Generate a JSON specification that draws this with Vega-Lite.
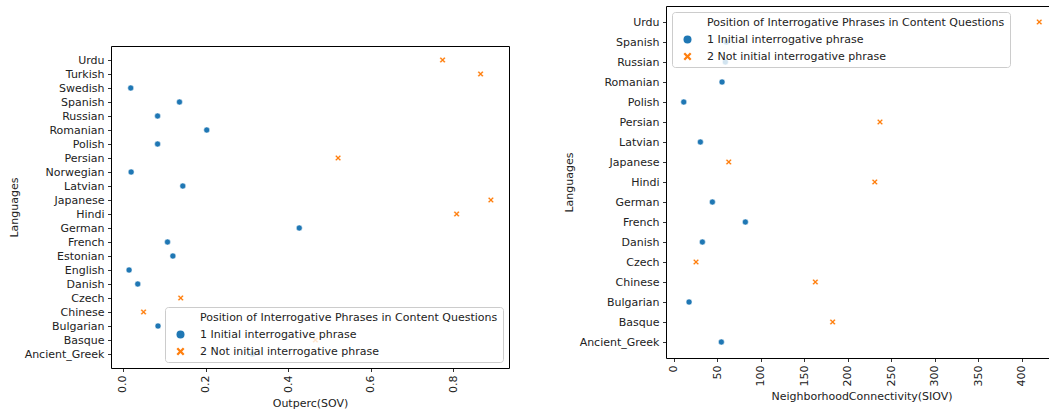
{
  "$schema": "https://vega.github.io/schema/vega-lite/v6.json",
  "padding": {"left": 8, "top": 5, "right": 0, "bottom": 0},
  "background": "white",
  "datasets": {
    "sov": [
      {"Language": "Urdu", "Value": 0.774, "Position": "2 Not initial interrogative phrase"},
      {"Language": "Turkish", "Value": 0.866, "Position": "2 Not initial interrogative phrase"},
      {"Language": "Swedish", "Value": 0.019, "Position": "1 Initial interrogative phrase"},
      {"Language": "Spanish", "Value": 0.137, "Position": "1 Initial interrogative phrase"},
      {"Language": "Russian", "Value": 0.084, "Position": "1 Initial interrogative phrase"},
      {"Language": "Romanian", "Value": 0.203, "Position": "1 Initial interrogative phrase"},
      {"Language": "Polish", "Value": 0.084, "Position": "1 Initial interrogative phrase"},
      {"Language": "Persian", "Value": 0.521, "Position": "2 Not initial interrogative phrase"},
      {"Language": "Norwegian", "Value": 0.020, "Position": "1 Initial interrogative phrase"},
      {"Language": "Latvian", "Value": 0.145, "Position": "1 Initial interrogative phrase"},
      {"Language": "Japanese", "Value": 0.891, "Position": "2 Not initial interrogative phrase"},
      {"Language": "Hindi", "Value": 0.808, "Position": "2 Not initial interrogative phrase"},
      {"Language": "German", "Value": 0.427, "Position": "1 Initial interrogative phrase"},
      {"Language": "French", "Value": 0.108, "Position": "1 Initial interrogative phrase"},
      {"Language": "Estonian", "Value": 0.121, "Position": "1 Initial interrogative phrase"},
      {"Language": "English", "Value": 0.015, "Position": "1 Initial interrogative phrase"},
      {"Language": "Danish", "Value": 0.036, "Position": "1 Initial interrogative phrase"},
      {"Language": "Czech", "Value": 0.140, "Position": "2 Not initial interrogative phrase"},
      {"Language": "Chinese", "Value": 0.050, "Position": "2 Not initial interrogative phrase"},
      {"Language": "Bulgarian", "Value": 0.085, "Position": "1 Initial interrogative phrase"},
      {"Language": "Basque", "Value": 0.466, "Position": "2 Not initial interrogative phrase"},
      {"Language": "Ancient_Greek", "Value": 0.314, "Position": "1 Initial interrogative phrase"}
    ],
    "siov": [
      {"Language": "Urdu", "Value": 420, "Position": "2 Not initial interrogative phrase"},
      {"Language": "Spanish", "Value": 60.5, "Position": "1 Initial interrogative phrase"},
      {"Language": "Russian", "Value": 59.3, "Position": "1 Initial interrogative phrase"},
      {"Language": "Romanian", "Value": 55.5, "Position": "1 Initial interrogative phrase"},
      {"Language": "Polish", "Value": 11.5, "Position": "1 Initial interrogative phrase"},
      {"Language": "Persian", "Value": 237, "Position": "2 Not initial interrogative phrase"},
      {"Language": "Latvian", "Value": 30.6, "Position": "1 Initial interrogative phrase"},
      {"Language": "Japanese", "Value": 63.2, "Position": "2 Not initial interrogative phrase"},
      {"Language": "Hindi", "Value": 231, "Position": "2 Not initial interrogative phrase"},
      {"Language": "German", "Value": 44.4, "Position": "1 Initial interrogative phrase"},
      {"Language": "French", "Value": 82.3, "Position": "1 Initial interrogative phrase"},
      {"Language": "Danish", "Value": 32.9, "Position": "1 Initial interrogative phrase"},
      {"Language": "Czech", "Value": 25.6, "Position": "2 Not initial interrogative phrase"},
      {"Language": "Chinese", "Value": 162.7, "Position": "2 Not initial interrogative phrase"},
      {"Language": "Bulgarian", "Value": 17.6, "Position": "1 Initial interrogative phrase"},
      {"Language": "Basque", "Value": 182.6, "Position": "2 Not initial interrogative phrase"},
      {"Language": "Ancient_Greek", "Value": 54.7, "Position": "1 Initial interrogative phrase"}
    ]
  },
  "spacing": 53,
  "resolve": {
    "scale": {"color": "independent", "shape": "independent"},
    "legend": {"color": "independent", "shape": "independent"}
  },
  "hconcat": [
    {
      "data": {"name": "sov"},
      "width": 398,
      "height": 362,
      "view": {"stroke": null},
      "resolve": {"axis": {"x": "independent", "y": "independent"}},
      "layer": [
        {
          "mark": {"type": "point", "filled": true, "opacity": 1, "size": 36, "stroke": "white", "strokeWidth": 0.5},
          "encoding": {
            "x": {
              "field": "Value", "type": "quantitative", "title": "Outperc(SOV)",
              "scale": {"domain": [-0.0288, 0.9348], "nice": false, "zero": false},
              "axis": {"values": [0, 0.2, 0.4, 0.6, 0.8], "format": ".1f", "labelAngle": 270, "domain": true}
            },
            "y": {
              "field": "Language", "type": "ordinal", "title": "Languages",
              "scale": {"type": "point", "padding": 1.05, "range": [40, 362], "domain": ["Urdu", "Turkish", "Swedish", "Spanish", "Russian", "Romanian", "Polish", "Persian", "Norwegian", "Latvian", "Japanese", "Hindi", "German", "French", "Estonian", "English", "Danish", "Czech", "Chinese", "Bulgarian", "Basque", "Ancient_Greek"]},
              "axis": {"domain": true}
            },
            "color": {
              "field": "Position", "type": "nominal",
              "scale": {"domain": ["Position of Interrogative Phrases in Content Questions", "1 Initial interrogative phrase", "2 Not initial interrogative phrase"], "range": ["transparent", "#1f77b4", "#ff7f0e"]},
              "legend": {"orient": "bottom-right", "offset": 6, "title": null}
            },
            "shape": {
              "field": "Position", "type": "nominal",
              "scale": {"domain": ["Position of Interrogative Phrases in Content Questions", "1 Initial interrogative phrase", "2 Not initial interrogative phrase"], "range": ["circle", "circle", "M-1,-0.6L-0.6,-1L0,-0.4L0.6,-1L1,-0.6L0.4,0L1,0.6L0.6,1L0,0.4L-0.6,1L-1,0.6L-0.4,0Z"]},
              "legend": {"orient": "bottom-right", "offset": 6, "title": null}
            }
          }
        },
        {
          "mark": {"type": "point", "opacity": 0},
          "encoding": {
            "x": {
              "field": "Value", "type": "quantitative",
              "axis": {"orient": "top", "offset": -40, "labels": false, "ticks": false, "domain": true, "title": null}
            },
            "y": {
              "field": "Language", "type": "ordinal",
              "axis": {"orient": "right", "labels": false, "ticks": false, "domain": true, "title": null}
            }
          }
        }
      ]
    },
    {
      "data": {"name": "siov"},
      "width": 391,
      "height": 352,
      "mark": {"type": "point", "filled": true, "opacity": 1, "size": 36, "stroke": "white", "strokeWidth": 0.5},
      "encoding": {
        "x": {
          "field": "Value", "type": "quantitative", "title": "NeighborhoodConnectivity(SIOV)",
          "scale": {"domain": [-8.9, 440.4], "nice": false, "zero": false},
          "axis": {"values": [0, 50, 100, 150, 200, 250, 300, 350, 400], "format": "d", "labelAngle": 270}
        },
        "y": {
          "field": "Language", "type": "ordinal", "title": "Languages",
          "scale": {"type": "point", "padding": 0.8, "domain": ["Urdu", "Spanish", "Russian", "Romanian", "Polish", "Persian", "Latvian", "Japanese", "Hindi", "German", "French", "Danish", "Czech", "Chinese", "Bulgarian", "Basque", "Ancient_Greek"]}
        },
        "color": {
          "field": "Position", "type": "nominal",
          "scale": {"domain": ["Position of Interrogative Phrases in Content Questions", "1 Initial interrogative phrase", "2 Not initial interrogative phrase"], "range": ["transparent", "#1f77b4", "#ff7f0e"]},
          "legend": {"orient": "top-left", "offset": 6, "title": null}
        },
        "shape": {
          "field": "Position", "type": "nominal",
          "scale": {"domain": ["Position of Interrogative Phrases in Content Questions", "1 Initial interrogative phrase", "2 Not initial interrogative phrase"], "range": ["circle", "circle", "M-1,-0.6L-0.6,-1L0,-0.4L0.6,-1L1,-0.6L0.4,0L1,0.6L0.6,1L0,0.4L-0.6,1L-1,0.6L-0.4,0Z"]},
          "legend": {"orient": "top-left", "offset": 6, "title": null}
        }
      }
    }
  ],
  "config": {
    "font": "DejaVu Sans",
    "view": {"stroke": "#000000", "strokeWidth": 1},
    "axis": {
      "grid": false, "domain": false, "domainColor": "#000000", "domainWidth": 1,
      "labelFont": "DejaVu Sans", "titleFont": "DejaVu Sans",
      "labelFontSize": 11, "titleFontSize": 11, "titleFontWeight": "normal",
      "labelColor": "#222222", "titleColor": "#222222",
      "tickColor": "#000000", "tickSize": 3.5, "tickWidth": 0.8,
      "labelPadding": 3.5, "titlePadding": 5
    },
    "legend": {
      "labelFont": "DejaVu Sans", "labelFontSize": 11, "labelColor": "#222222",
      "symbolSize": 64, "symbolStrokeWidth": 0, "symbolOffset": 5, "labelOffset": 14,
      "strokeColor": "#cccccc", "fillColor": "rgba(255,255,255,0.8)",
      "cornerRadius": 3, "padding": 5, "rowPadding": 5,
      "labelLimit": 400
    }
  }
}
